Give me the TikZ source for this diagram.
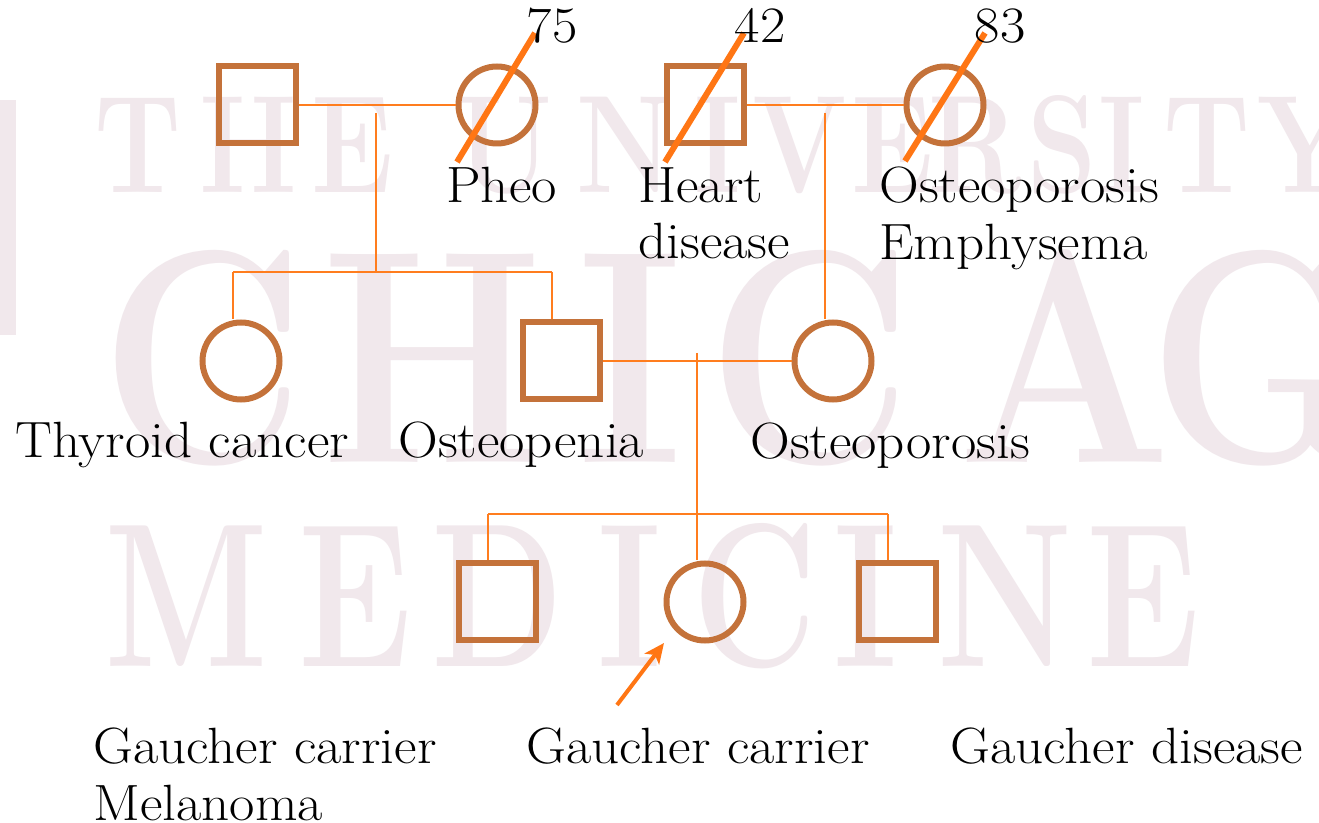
\documentclass[tikz,border=0pt]{standalone}
\usepackage{fontspec}
\usepackage{graphicx}
\usetikzlibrary{arrows.meta,calc}
\newfontfamily\lblfont{Latin Modern Roman}[FakeStretch=1.08]
\definecolor{shapec}{RGB}{196,114,58}
\definecolor{linec}{RGB}{255,125,30}
\definecolor{slashc}{RGB}{255,118,20}
\definecolor{wmc}{RGB}{241,232,236}
\begin{document}
\begin{tikzpicture}[x=0.5pt,y=-0.5pt,
  male/.style={shape=rectangle,draw=shapec,line width=3pt,minimum size=38.5pt,inner sep=0pt},
  female/.style={shape=circle,draw=shapec,line width=3pt,minimum size=38.5pt,inner sep=0pt},
  rel/.style={draw=linec,line width=1.25pt},
  slash/.style={draw=slashc,line width=3pt},
  pointer/.style={draw=slashc,line width=2pt,-{Stealth[length=10pt,width=9pt,inset=2.5pt]}},
  lbl/.style={anchor=base west,inner sep=0pt,font=\lblfont\fontsize{25.5}{28.5}\selectfont},
  age/.style={anchor=base,inner sep=0pt,font=\lblfont\fontsize{25.5}{28.5}\selectfont},
  wmA/.style={anchor=base,inner sep=0pt,text=wmc,font=\bfseries\fontsize{69.5}{70}\selectfont},
  wmB/.style={anchor=base,inner sep=0pt,text=wmc,font=\bfseries\fontsize{152}{153}\selectfont},
  wmC/.style={anchor=base,inner sep=0pt,text=wmc,font=\bfseries\fontsize{102.5}{103}\selectfont}
]
\useasboundingbox (0,0) rectangle (1319,823);
\fill[white] (0,0) rectangle (1319,823);

% watermark
\fill[wmc] (0,100) rectangle (16,335);
\foreach \ch/\xx [count=\i] in {T/138,H/248,E/353,U/505,N/625,I/718,V/800,E/893,R/975,S/1062,I/1122,T/1207,Y/1305}
  \node[wmA] (wa\i) at (\xx,193) {\scalebox{0.8}[1]{\ch}};
\foreach \ch/\xx [count=\i] in {C/203,H/433,I/630,C/810,A/1065,G/1260}
  \node[wmB] (wb\i) at (\xx,463) {\scalebox{0.83}[1]{\ch}};
\foreach \ch/\xx [count=\i] in {M/187,E/355,D/498,I/630,C/755,I/866,N/1005,E/1143}
  \node[wmC] (wc\i) at (\xx,667) {\scalebox{0.75}[1]{\ch}};

% generation I
\node[male]   (gfa) at (257,105) {};
\node[female] (gma) at (497,105) {};
\node[male]   (gfb) at (705,105) {};
\node[female] (gmb) at (945,105) {};

% generation II
\node[female] (thy) at (241,361) {};
\node[male]   (dad) at (561,361) {};
\node[female] (mom) at (833,361) {};

% generation III
\node[male]   (sonA) at (497,602) {};
\node[female] (prob) at (705,602) {};
\node[male]   (sonB) at (897,602) {};

% marriages and descent lines
\draw[rel] (gfa.east) -- (gma.west);
\coordinate (da) at (376,113);
\coordinate (sa) at (376,272);
\coordinate (sal) at (233,272);
\coordinate (sar) at (552,272);
\draw[rel] (da) -- (sa);
\draw[rel] (sal) -- (sar);
\draw[rel] (sal) -- (sal |- thy.north);
\draw[rel] (sar) -- (sar |- dad.north);

\draw[rel] (gfb.east) -- (gmb.west);
\coordinate (db) at (825,113);
\draw[rel] (db) -- (db |- mom.north);

\draw[rel] (dad.east) -- (mom.west);
\coordinate (dc) at (697,353);
\coordinate (sc) at (697,514);
\coordinate (scl) at (488,514);
\coordinate (scr) at (888,514);
\draw[rel] (dc) -- (sc);
\draw[rel] (scl) -- (scr);
\draw[rel] (scl) -- (scl |- sonA.north);
\draw[rel] (sc) -- (sc |- prob.north);
\draw[rel] (scr) -- (scr |- sonB.north);

% deceased slashes
\draw[slash] ([shift={(-40,57)}]gma.center) -- ([shift={(38,-72)}]gma.center);
\draw[slash] ([shift={(-40,57)}]gfb.center) -- ([shift={(39,-72)}]gfb.center);
\draw[slash] ([shift={(-40,56)}]gmb.center) -- ([shift={(40,-72)}]gmb.center);

% proband arrow
\coordinate (arrtail) at (617,705);
\coordinate (arrtip) at (664,643);
\draw[pointer] (arrtail) -- (arrtip);

% ages
\node[age] (agea) at (552,43) {75};
\node[age] (ageb) at (760,43) {42};
\node[age] (agec) at (1000,43) {83};

% labels
\node[lbl] (lpheo) at (446,203) {Pheo};
\node[lbl] (lhearta) at (638,203) {Heart};
\node[lbl] (lheartb) at (638,259) {disease};
\node[lbl] (losta) at (879,203) {Osteoporosis};
\node[lbl] (lostb) at (879,260) {Emphysema};
\node[lbl] (lthy) at (15,458) {Thyroid cancer};
\node[lbl] (lpenia) at (398,458) {Osteopenia};
\node[lbl] (lmom) at (750,459) {Osteoporosis};
\node[lbl] (lsonAa) at (93,763) {Gaucher carrier};
\node[lbl] (lsonAb) at (93,820) {Melanoma};
\node[lbl] (lprob) at (526,763) {Gaucher carrier};
\node[lbl] (lsonB) at (950,763) {Gaucher disease};
\end{tikzpicture}
\end{document}
